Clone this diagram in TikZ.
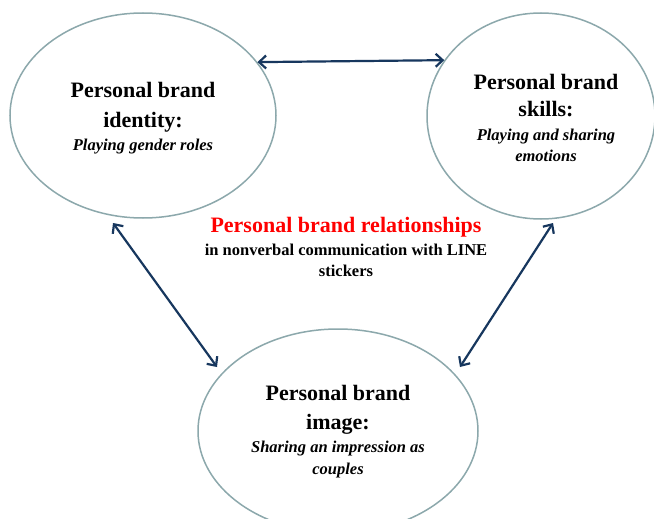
\documentclass[tikz,border=0pt]{standalone}
\usepackage{fontspec}
\setmainfont{Liberation Serif}
\usetikzlibrary{shapes.geometric,arrows.meta}
\definecolor{rim}{HTML}{8CA8AC}
\definecolor{navy}{HTML}{17375E}
\definecolor{hot}{HTML}{FF0000}
\tikzset{
  x=1pt,y=-1pt,
  bubble/.style={draw=rim,line width=1.5pt,ellipse,inner sep=0pt},
  head/.style={anchor=base,font=\fontsize{22}{26}\selectfont\bfseries,inner sep=0pt},
  sub/.style={anchor=base,font=\fontsize{16.5}{20}\selectfont\bfseries\itshape,inner sep=0pt},
  note/.style={anchor=base,font=\fontsize{16.5}{20}\selectfont\bfseries,inner sep=0pt},
  link/.style={draw=navy,line width=2.2pt,{Straight Barb[length=7pt,width=13pt]}-{Straight Barb[length=7pt,width=13pt]}}
}
\begin{document}
\begin{tikzpicture}
\useasboundingbox (0,0) rectangle (654,519);
\clip (0,0) rectangle (654,519);
\fill[white] (0,0) rectangle (654,519);

% the three brand ellipses
\node[bubble,minimum width=266pt,minimum height=205pt] (L) at (143,115.5) {};
\node[bubble,minimum width=228pt,minimum height=206pt] (R) at (541,116) {};
\node[bubble,minimum width=280pt,minimum height=204pt] (B) at (338,431) {};

% identity
\node[head] (L1) at (143,98) {Personal brand};
\node[head] (L2) at (143,128) {identity:};
\node[sub]  (L3) at (143,150) {Playing gender roles};

% skills
\node[head] (R1) at (546,90) {Personal brand};
\node[head] (R2) at (546,117) {skills:};
\node[sub]  (R3) at (546,140) {Playing and sharing};
\node[sub]  (R4) at (546,161) {emotions};

% image
\node[head] (B1) at (338,400) {Personal brand};
\node[head] (B2) at (338,429) {image:};
\node[sub]  (B3) at (338,452) {Sharing an impression as};
\node[sub]  (B4) at (338,474) {couples};

% centre caption
\node[head,text=hot] (C1) at (346,232) {Personal brand relationships};
\node[note] (C2) at (346,255) {in nonverbal communication with LINE};
\node[note] (C3) at (346,276) {stickers};

% relationship arrows
\coordinate (a1) at (113,223);
\coordinate (a2) at (217,367);
\coordinate (b1) at (553,223);
\coordinate (b2) at (460,367);
\draw[link] (L.25.8) -- (R.150.3);
\draw[link] (a1) -- (a2);
\draw[link] (b1) -- (b2);
\end{tikzpicture}
\end{document}
